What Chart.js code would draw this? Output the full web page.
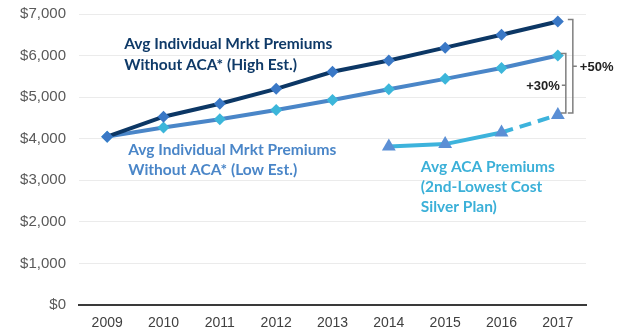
<!DOCTYPE html>
<html>
<head>
<meta charset="utf-8">
<script src="https://cdn.jsdelivr.net/npm/chart.js@4"></script>
<style>
  html, body { margin: 0; padding: 0; background: #fff; }
  #wrap { width: 630px; height: 333px; position: relative; }
</style>
</head>
<body>
<div id="wrap"><canvas id="chart"></canvas></div>
<script>
const years = ['2009', '2010', '2011', '2012', '2013', '2014', '2015', '2016', '2017'];
const highEst = [4050, 4530, 4840, 5200, 5610, 5880, 6190, 6500, 6820];
const lowEst = [4050, 4270, 4470, 4690, 4930, 5190, 5440, 5700, 6000];
const acaPremiums = [null, null, null, null, null, 3810, 3870, 4150, 4570];
const yTicks = [0, 1000, 2000, 3000, 4000, 5000, 6000, 7000];

const labelFont = 'bold 15.5px Lato, "Open Sans", sans-serif';

// text labels + the +30% / +50% brackets at 2017
const annotations = {
  id: 'annotations',
  afterDatasetsDraw(chart) {
    const ctx = chart.ctx;
    const x = chart.scales.x;
    const y = chart.scales.y;
    ctx.save();
    ctx.font = labelFont;
    ctx.textBaseline = 'middle';
    ctx.fillStyle = '#0f3a68';
    ctx.fillText('Avg Individual Mrkt Premiums', x.getPixelForValue(0) + 17, y.getPixelForValue(6280));
    ctx.fillText('Without ACA* (High Est.)', x.getPixelForValue(0) + 17, y.getPixelForValue(5770));
    ctx.fillStyle = '#4a86c8';
    ctx.fillText('Avg Individual Mrkt Premiums', x.getPixelForValue(0) + 21, y.getPixelForValue(3730));
    ctx.fillText('Without ACA* (Low Est.)', x.getPixelForValue(0) + 21, y.getPixelForValue(3250));
    ctx.fillStyle = '#3bb0d8';
    ctx.fillText('Avg ACA Premiums', x.getPixelForValue(5) + 32, y.getPixelForValue(3320));
    ctx.fillText('(2nd-Lowest Cost', x.getPixelForValue(5) + 32, y.getPixelForValue(2840));
    ctx.fillText('Silver Plan)', x.getPixelForValue(5) + 32, y.getPixelForValue(2360));

    const x17 = x.getPixelForValue(8);
    const yHigh = y.getPixelForValue(highEst[8]);
    const yLow = y.getPixelForValue(lowEst[8]);
    const yAca = y.getPixelForValue(acaPremiums[8]);
    ctx.strokeStyle = '#7f7f7f';
    ctx.lineWidth = 1.5;
    // outer bracket (+50%)
    const ox = x17 + 15;
    ctx.beginPath();
    ctx.moveTo(ox - 5, yHigh - 2);
    ctx.lineTo(ox, yHigh - 2);
    ctx.lineTo(ox, yAca - 2);
    ctx.lineTo(ox - 5, yAca - 2);
    ctx.moveTo(ox, (yHigh + yAca) / 2 - 2);
    ctx.lineTo(ox + 4, (yHigh + yAca) / 2 - 2);
    ctx.stroke();
    // inner bracket (+30%)
    const ix = x17 + 8;
    ctx.beginPath();
    ctx.moveTo(ix - 5, yLow - 2);
    ctx.lineTo(ix, yLow - 2);
    ctx.lineTo(ix, yAca - 2);
    ctx.lineTo(ix - 5, yAca - 2);
    ctx.moveTo(ix, (yLow + yAca) / 2);
    ctx.lineTo(ix - 4, (yLow + yAca) / 2);
    ctx.stroke();
    ctx.font = 'bold 13px "Liberation Sans", Arial, sans-serif';
    ctx.fillStyle = '#222';
    ctx.textAlign = 'left';
    ctx.fillText('+50%', ox + 7, (yHigh + yAca) / 2 - 1);
    ctx.textAlign = 'right';
    ctx.fillText('+30%', ix - 6, (yLow + yAca) / 2 + 1);
    ctx.restore();
  }
};

new Chart(document.getElementById('chart'), {
  type: 'line',
  data: {
    labels: years,
    datasets: [
      {
        label: 'High Est.',
        data: highEst,
        borderColor: '#0c3765',
        backgroundColor: '#3a78c6',
        borderWidth: 4,
        pointStyle: 'rectRot',
        pointRadius: 6,
        pointBorderWidth: 0,
        pointBackgroundColor: '#3a78c6',
        tension: 0
      },
      {
        label: 'Low Est.',
        data: lowEst,
        borderColor: '#4a86c8',
        backgroundColor: '#3cb6da',
        borderWidth: 4,
        pointStyle: 'rectRot',
        pointRadius: 6,
        pointBorderWidth: 0,
        pointBackgroundColor: '#3cb6da',
        tension: 0
      },
      {
        label: 'ACA',
        data: acaPremiums,
        borderColor: '#3db3dc',
        backgroundColor: '#5b8fd5',
        borderWidth: 4,
        pointStyle: 'triangle',
        pointRadius: 8,
        pointBorderWidth: 0,
        pointBackgroundColor: '#5b8fd5',
        segment: {
          borderDash: ctx => ctx.p0DataIndex >= 7 ? [12, 7] : undefined
        },
        tension: 0
      }
    ]
  },
  options: {
    responsive: true,
    maintainAspectRatio: false,
    animation: false,
    layout: { padding: { top: 0, right: 44, left: 0, bottom: 0 } },
    plugins: {
      legend: { display: false },
      tooltip: { enabled: false }
    },
    scales: {
      x: {
        offset: true,
        grid: { display: false, drawTicks: false },
        border: { display: true, color: '#3a3a3a', width: 2 },
        ticks: {
          color: '#404040',
          padding: 10,
          font: { family: '"Liberation Sans", Arial, sans-serif', size: 14 }
        },
        afterFit: scale => { scale.height = 28; }
      },
      y: {
        min: 0,
        max: 7000,
        afterBuildTicks: scale => { scale.ticks = yTicks.map(v => ({ value: v })); },
        grid: { color: '#ebebeb', lineWidth: 1, drawTicks: false },
        border: { display: false },
        ticks: {
          color: '#595959',
          padding: 13,
          font: { family: '"Liberation Sans", Arial, sans-serif', size: 15 },
          callback: v => '$' + v.toLocaleString('en-US')
        },
        afterFit: scale => {
          scale.width = 79;
          scale.paddingTop = 14;
          scale.paddingBottom = 0;
        }
      }
    }
  },
  plugins: [annotations]
});
</script>
</body>
</html>
